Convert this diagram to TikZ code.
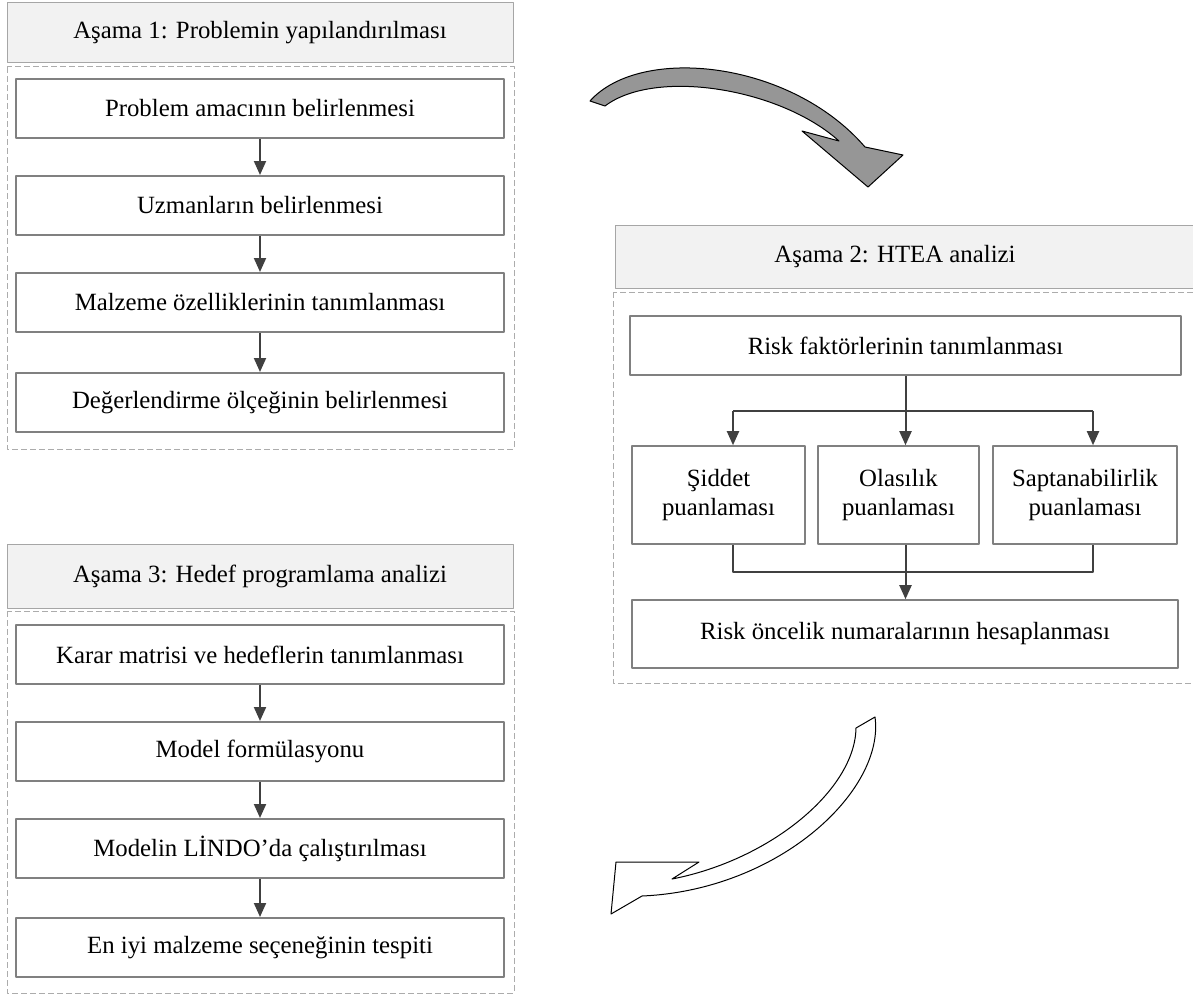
\documentclass[tikz,border=0pt]{standalone}
\usepackage{fontspec}
\setmainfont{Liberation Serif}
\usetikzlibrary{arrows.meta, positioning, calc}

\begin{document}
\begin{tikzpicture}[x=0.5pt, y=-0.5pt, line join=round,
  every node/.style={font=\fontsize{12.4}{14.5}\selectfont, align=center},
  stagefill/.style={draw=gray!70, fill=gray!10, line width=0.5pt},
  stagehead/.style={stagefill, inner sep=0pt, minimum width=253pt, minimum height=30pt},
  stageframe/.style={draw=gray!65, line width=0.5pt, dash pattern=on 3pt off 1.5pt},
  stepbox/.style={draw=gray, line width=1pt, inner sep=0pt, minimum width=244pt, minimum height=29.5pt},
  scorebox/.style={draw=gray, line width=0.8pt, inner sep=0pt, minimum height=49pt},
  flow/.style={draw=black!75, line width=1pt, -{Triangle[length=7pt, width=6pt]}},
  link/.style={draw=black!75, line width=1pt},
  turnarrow/.style={draw=black, line width=0.5pt}
]
\useasboundingbox (0,0) rectangle (1193,995);

% Stage 1
\node[stagehead] (h1) at (260,33) {Aşama 1: Problemin yapılandırılması};
\draw[stageframe] (7,67) rectangle (514,449);
\node[stepbox] (p1) at (260,108.5) {Problem amacının belirlenmesi};
\node[stepbox] (p2) at (260,205.5) {Uzmanların belirlenmesi};
\node[stepbox] (p3) at (260,302.5) {Malzeme özelliklerinin tanımlanması};
\node[stepbox] (p4) at (260,402.5) {Değerlendirme ölçeğinin belirlenmesi};
\draw[flow] (p1.south) -- (p2.north);
\draw[flow] (p2.south) -- (p3.north);
\draw[flow] (p3.south) -- (p4.north);

% Stage 2
\draw[stagefill] (615,225) rectangle (1205,288);
\node (h2) at (895,256.5) {Aşama 2: HTEA analizi};
\draw[stageframe] (613,292) rectangle (1205,683);
\node[stepbox, line width=0.8pt, minimum width=275.5pt] (r1) at (905.5,345.5) {Risk faktörlerinin tanımlanması};
\node[scorebox, minimum width=86.5pt] (r2) at (718.5,495) {Şiddet\\puanlaması};
\node[scorebox, minimum width=80.5pt] (r3) at (898.5,495) {Olasılık\\puanlaması};
\node[scorebox, minimum width=92pt] (r4) at (1085,495) {Saptanabilirlik\\puanlaması};
\node[stepbox, line width=0.8pt, minimum width=273pt, minimum height=34pt] (r5) at (905,634) {Risk öncelik numaralarının hesaplanması};

\coordinate (split1) at (733,411);
\coordinate (split3) at (1093,411);
\coordinate (join1) at (733,572);
\coordinate (join3) at (1093,572);
\draw[flow] (r1.south) -- (r1.south |- r3.north);
\draw[link] (split1) -- (split3);
\draw[flow] (split1) -- (split1 |- r2.north);
\draw[flow] (split3) -- (split3 |- r4.north);
\draw[link] (join1 |- r2.south) -- (join1) -- (join3) -- (join3 |- r4.south);
\draw[flow] (r1.south |- r3.south) -- (r1.south |- r5.north);

% Stage 3
\node[stagehead, minimum height=32pt] (h3) at (260,576) {Aşama 3: Hedef programlama analizi};
\draw[stageframe] (7,611) rectangle (514,993);
\node[stepbox] (g1) at (260,654.5) {Karar matrisi ve hedeflerin tanımlanması};
\node[stepbox] (g2) at (260,751.5) {Model formülasyonu};
\node[stepbox] (g3) at (260,848.5) {Modelin LİNDO’da çalıştırılması};
\node[stepbox] (g4) at (260,947.5) {En iyi malzeme seçeneğinin tespiti};
\draw[flow] (g1.south) -- (g2.north);
\draw[flow] (g2.south) -- (g3.north);
\draw[flow] (g3.south) -- (g4.north);

% Curved arrows between the stages
\draw[turnarrow, fill=black!41] (590,101) .. controls (640,45) and (790,60) .. (865,147)
  -- (903,155) -- (868,187) -- (802,131) -- (839,141)
  .. controls (780,88) and (655,68) .. (605,106) -- cycle;
\draw[turnarrow, fill=white] (875,717) .. controls (885,790) and (780,890) .. (642,896)
  -- (611,914) -- (616,862) -- (699,862) -- (672,879)
  .. controls (770,860) and (855,790) .. (856,728) -- cycle;
\end{tikzpicture}
\end{document}
